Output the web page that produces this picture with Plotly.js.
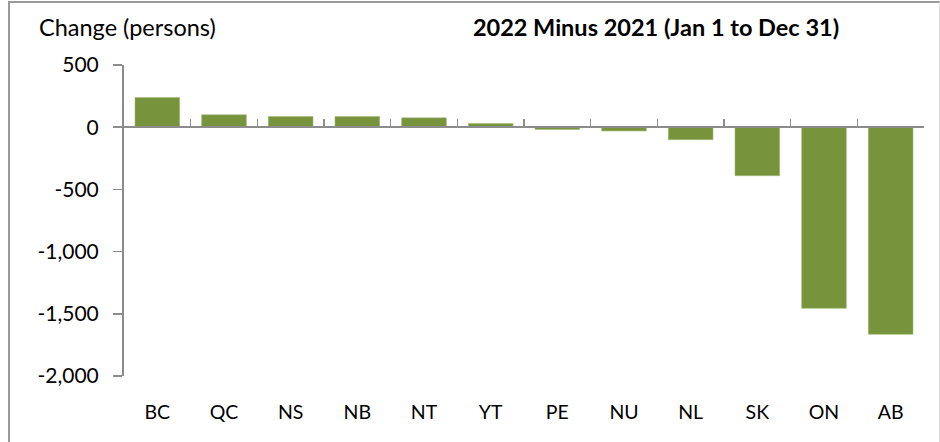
<!DOCTYPE html>
<html>
<head>
<meta charset="utf-8">
<script src="https://cdn.plot.ly/plotly-3.0.1.min.js"></script>
<style>
  html, body { margin: 0; padding: 0; background: #fff; }
  #wrap { position: relative; width: 940px; height: 442px; }
  #chart { width: 940px; height: 442px; }
  #frame { position: absolute; left: 8px; top: 1px; width: 929px; height: 460px;
           border-top: 2px solid #9a9a9a; border-left: 2px solid #9a9a9a; border-right: 1px solid #dcdcdc;
           pointer-events: none; }
</style>
</head>
<body>
<div id="wrap">
  <div id="chart"></div>
  <div id="frame"></div>
</div>
<script>
// Data
const provinces = ['BC', 'QC', 'NS', 'NB', 'NT', 'YT', 'PE', 'NU', 'NL', 'SK', 'ON', 'AB'];
const changePersons = [239, 100, 86, 86, 75, 30, -18, -30, -100, -390, -1456, -1665];
const yTickVals = [500, 0, -500, -1000, -1500, -2000];
const yTickText = ['500', '0', '-500', '-1,000', '-1,500', '-2,000'];
const chartTitle = '2022 Minus 2021 (Jan 1 to Dec 31)';
const yLabel = 'Change (persons)';

const FONT = 'Lato, "Open Sans", sans-serif';

const traces = [
  {
    type: 'bar',
    x: provinces,
    y: changePersons,
    xaxis: 'x',
    yaxis: 'y',
    marker: { color: '#77933C', line: { color: '#a3bb78', width: 0.6 } },
    hoverinfo: 'x+y',
    showlegend: false
  },
  {
    // invisible helper trace so the zero-line axis (x2) has categories
    type: 'scatter',
    mode: 'markers',
    x: provinces,
    y: changePersons,
    xaxis: 'x2',
    yaxis: 'y',
    marker: { opacity: 0 },
    hoverinfo: 'skip',
    showlegend: false
  }
];

const layout = {
  width: 940,
  height: 442,
  margin: { l: 124, r: 16, t: 65, b: 66 },
  paper_bgcolor: '#ffffff',
  plot_bgcolor: '#ffffff',
  font: { family: FONT, color: '#000', size: 19 },
  bargap: 0.33,
  title: {
    text: '<b>' + chartTitle + '</b>',
    font: { family: FONT, size: 23.5, color: '#000' },
    x: 656 / 940, xref: 'container', xanchor: 'center',
    y: 1 - 28 / 442, yref: 'container', yanchor: 'middle'
  },
  xaxis: {
    type: 'category',
    categoryorder: 'array',
    categoryarray: provinces,
    range: [-0.5, provinces.length - 0.5],
    showline: false,
    showgrid: false,
    zeroline: false,
    ticks: '',
    tickfont: { family: FONT, size: 19.5, color: '#000' },
    ticklabelstandoff: 22,
    fixedrange: true
  },
  xaxis2: {
    type: 'category',
    categoryorder: 'array',
    categoryarray: provinces,
    overlaying: 'x',
    anchor: 'free',
    position: 0.8,
    side: 'bottom',
    range: [-0.5, provinces.length - 0.5],
    showline: true,
    linecolor: '#8c8c8c',
    linewidth: 2,
    showgrid: false,
    zeroline: false,
    ticks: 'inside',
    tickson: 'boundaries',
    ticklen: 7,
    tickwidth: 1.5,
    tickcolor: '#8c8c8c',
    showticklabels: false,
    fixedrange: true
  },
  yaxis: {
    range: [-2000, 500],
    tickmode: 'array',
    tickvals: yTickVals,
    ticktext: yTickText,
    showline: true,
    linecolor: '#8c8c8c',
    linewidth: 2,
    showgrid: false,
    zeroline: false,
    ticks: 'outside',
    ticklen: 9,
    tickwidth: 1.5,
    tickcolor: '#8c8c8c',
    tickfont: { family: FONT, size: 21, color: '#000' },
    ticklabelstandoff: 10,
    fixedrange: true
  },
  annotations: [
    {
      text: yLabel,
      xref: 'paper', yref: 'paper',
      x: (37 - 124) / 800, y: (376 - 27) / 311,
      xanchor: 'left', yanchor: 'middle',
      showarrow: false,
      font: { family: FONT, size: 23.5, color: '#000' }
    }
  ]
};

Plotly.newPlot('chart', traces, layout, { displayModeBar: false, staticPlot: true });
</script>
</body>
</html>
